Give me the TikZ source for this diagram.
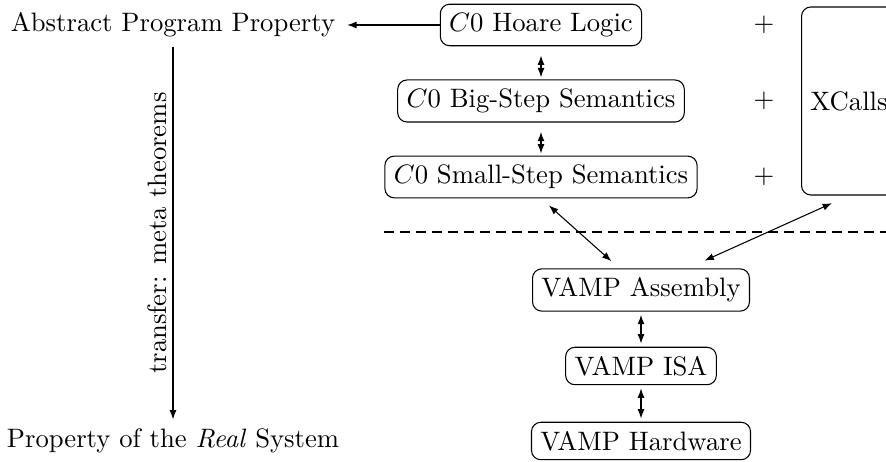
\documentclass[tikz,border=0pt]{standalone}
\usetikzlibrary{arrows.meta}
\begin{document}
\begin{tikzpicture}[x=0.375pt, y=-0.375pt,
  layer/.style={draw, rounded corners=3.5pt, inner sep=3.33pt},
  plain/.style={inner sep=3.33pt},
  tip/.tip={Latex[length=3.5pt,width=2.6pt]},
  >=tip,
  link/.style={tip-tip},
  sep/.style={line width=0.75pt, dash pattern=on 3.6pt off 2.4pt}]
\useasboundingbox (0,0) rectangle (886,462);

% left column: abstract vs. real property
\node[plain] (abs)  at (173,25)  {Abstract Program Property};
\node[plain] (prop) at (173,441) {Property of the \emph{Real} System};

% C0 semantics stack
\node[layer] (hoare) at (541,25)  {$C0$ Hoare Logic};
\node[layer] (big)   at (541,101) {$C0$ Big-Step Semantics};
\node[layer] (small) at (541,177) {$C0$ Small-Step Semantics};

\node (p1) at (764,25)  {$+$};
\node (p2) at (764,101) {$+$};
\node (p3) at (764,177) {$+$};

\node[layer, minimum height=70.5pt] (xc) at (849,101) {XCalls};

% VAMP stack
\node[layer] (asm) at (641,290) {VAMP Assembly};
\node[layer] (isa) at (641,366) {VAMP ISA};
\node[layer] (hw)  at (641,441) {VAMP Hardware};

% separator between the C0 level and the machine level
\coordinate (d0) at (small.west |- 0,232);
\coordinate (d1) at (886,232);
\draw[sep] (d0) -- (d1);

% connectors
\draw[->, shorten >=1pt] (hoare.west) -- (abs.east);
\draw[->] (abs.south) -- node[midway, anchor=south, rotate=90, inner sep=2pt] {transfer: meta theorems} (prop.north);

\draw[link, shorten <=3.5pt, shorten >=0.8pt] (hoare) -- (big);
\draw[link, shorten <=3.5pt, shorten >=0.8pt] (big) -- (small);
\draw[link, shorten <=1.2pt, shorten >=1.2pt] (asm) -- (isa);
\draw[link, shorten <=1.2pt, shorten >=1.2pt] (isa) -- (hw);

\draw[link, shorten <=4pt, shorten >=4pt] (small.south) -- (asm.135);
\draw[link, shorten <=7pt, shorten >=7pt] (xc.south) -- (asm.25);
\end{tikzpicture}
\end{document}
